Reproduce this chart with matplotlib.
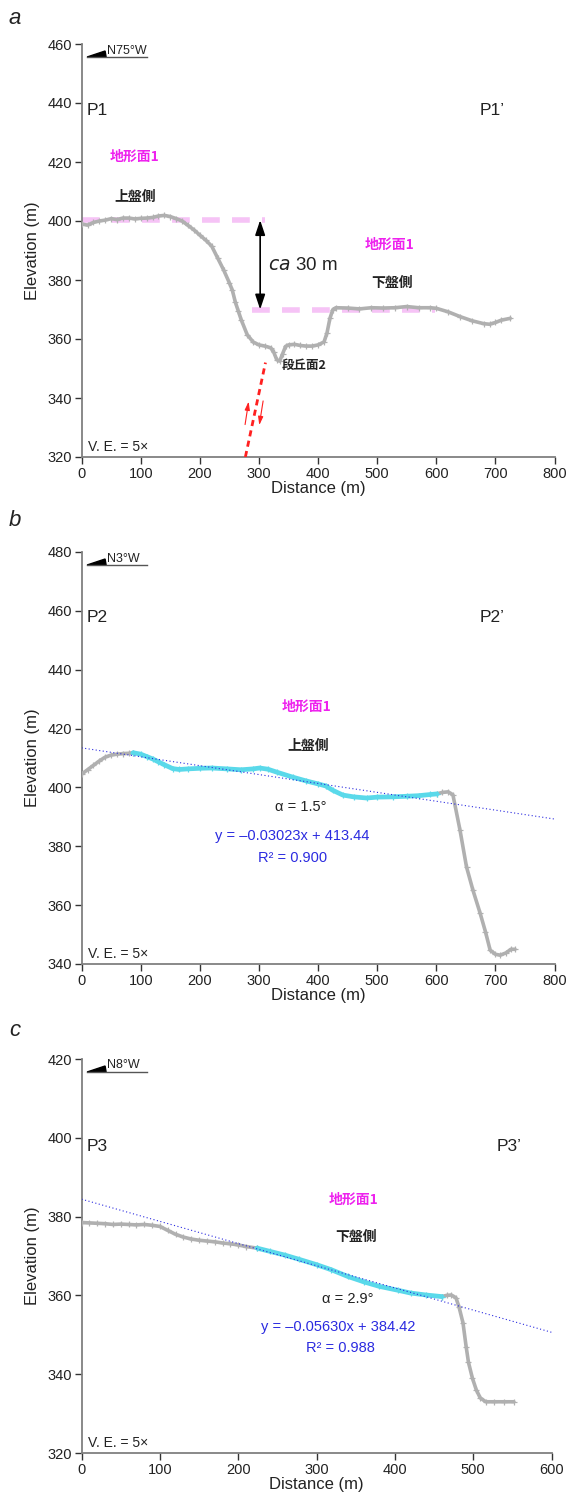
"""Three topographic profiles (P1-P3) across the fault scarp, V.E. = 5x."""
import matplotlib
matplotlib.use("Agg")
import matplotlib.pyplot as plt
import matplotlib.transforms as mtransforms
from matplotlib.patches import Polygon

plt.rcParams["font.family"] = ["Liberation Sans", "Noto Sans CJK JP", "DejaVu Sans"]

# --- profile P1 (panel a)
p1_x = [0, 10, 20, 30, 40, 50, 60, 70, 80, 90, 100, 110, 120, 130, 140, 150, 160,
        170, 180, 190, 200, 210, 220, 230, 240, 250, 255, 260, 265, 270, 280, 290,
        300, 310, 320, 325, 330, 335, 340, 345, 350, 360, 370, 380, 390, 400, 410,
        415, 420, 425, 430, 450, 470, 490, 510, 530, 550, 570, 590, 600, 620, 640,
        660, 680, 690, 700, 710, 725]
p1_y = [399, 398.6, 399.5, 400, 400.3, 400.8, 400.5, 401, 401, 400.7, 400.9, 401,
        401.2, 401.7, 401.9, 401.5, 400.8, 400, 398.5, 397, 395.2, 393.5, 391.5,
        387.5, 383.5, 379, 376.5, 372.5, 369.5, 366.5, 361.5, 359, 358, 357.6,
        357, 355.5, 353, 352.5, 355, 357.5, 358, 358.2, 357.8, 357.6, 357.6, 358,
        359, 362, 367, 370, 370.6, 370.5, 370.2, 370.6, 370.5, 370.6, 371, 370.6,
        370.6, 370.4, 369.2, 367.6, 366.2, 365.2, 365, 365.6, 366.4, 367]
p1_upper = 400.3       # 地形面1 on the hanging wall
p1_lower = 370.0       # 地形面1 on the footwall
p1_upper_span = [0, 310]
p1_lower_span = [289, 598]
fault_x = [277, 311]
fault_y = [320, 352]

# --- profile P2 (panel b)
p2_x_a = [0, 10, 20, 30, 40, 50, 60, 70, 80, 87]
p2_y_a = [404.5, 406, 407.5, 409, 410.3, 411, 411.3, 411.5, 411.6, 411.8]
p2_x_fit = [87, 100, 110, 120, 130, 140, 154, 165, 180, 200, 220, 246, 270, 290,
            301, 315, 330, 357, 380, 400, 413, 425, 442, 460, 482, 500, 526, 550,
            570, 590, 601]
p2_y_fit = [411.8, 411.3, 410.5, 409.7, 408.7, 407.7, 406.4, 406.1, 406.3, 406.5,
            406.6, 406.3, 406, 406.3, 406.6, 406.2, 405.2, 403.5, 402.2, 401.2,
            400.5, 399, 397.4, 396.8, 396.4, 396.7, 396.8, 397, 397.2, 397.6, 397.8]
p2_x_b = [601, 610, 620, 628, 640, 651, 662, 674, 683, 691, 700, 708, 718, 726, 733]
p2_y_b = [397.8, 398.3, 398.5, 397.5, 385.5, 373, 365, 357.3, 351, 344.7, 343.3,
          343, 343.8, 345, 345]
p2_slope, p2_icpt = -0.03023, 413.44

# --- profile P3 (panel c)
p3_x_a = [0, 10, 20, 30, 40, 50, 60, 70, 80, 90, 100, 110, 120, 130, 140, 150, 160,
          170, 180, 190, 200, 210, 224]
p3_y_a = [378.5, 378.4, 378.3, 378.2, 378, 378.1, 378, 377.9, 378, 377.8, 377.5,
          376.5, 375.5, 374.8, 374.3, 374, 373.8, 373.6, 373.3, 373.1, 372.8, 372.4, 372]
p3_x_fit = [224, 240, 260, 277, 300, 319, 340, 361, 380, 404, 420, 440, 460]
p3_y_fit = [372, 371.2, 370.2, 369.2, 367.8, 366.5, 364.8, 363.4, 362.3, 361.3,
            360.6, 360.1, 359.7]
p3_x_b = [460, 466, 472, 478, 482, 487, 491, 494, 499, 504, 509, 516, 527, 539, 552]
p3_y_b = [359.7, 360, 360.1, 359.4, 357, 353, 347, 343, 339, 336, 334, 333, 333,
          333, 333]
p3_slope, p3_icpt = -0.05630, 384.42

GRAY = "#b0b0b0"
CYAN = "#5ad9ea"
MAGENTA = "#ee22ee"
BLUE = "#2b2be0"
PINK = "#f6c3f6"
TXT = "#222222"
CJK = ["Noto Sans CJK JP", "DejaVu Sans"]

W, H = 568, 1503
fig = plt.figure(figsize=(W / 100, H / 100), dpi=100)
# reference-pixel coordinates (origin top-left) -> figure
PX = mtransforms.Affine2D().scale(1 / W, -1 / H).translate(0, 1) + fig.transFigure


def new_axes(left, top, right, bottom):
    ax = fig.add_axes([left / W, 1 - bottom / H, (right - left) / W, (bottom - top) / H])
    for s in ("top", "right"):
        ax.spines[s].set_visible(False)
    for s in ("left", "bottom"):
        ax.spines[s].set_color("#808080")
        ax.spines[s].set_linewidth(1.3)
    ax.tick_params(direction="out", length=5, width=1, color="#333333",
                   labelsize=10.5, labelcolor=TXT, pad=2)
    ax.set_xlabel("Distance (m)", fontsize=12, color=TXT, labelpad=0)
    ax.set_ylabel("Elevation (m)", fontsize=12, color=TXT, labelpad=5)
    return ax


def north(left, top, label):
    fig.add_artist(plt.Line2D([left + 5.5, left + 65.5], [top + 13, top + 13],
                              transform=PX, color="#555555", lw=1))
    fig.add_artist(Polygon([[left + 5.5, top + 13], [left + 23.5, top + 7],
                            [left + 24.5, top + 13]], closed=True,
                           transform=PX, color="black"))
    fig.text(left + 25.5, top + 6.5, label, transform=PX, fontsize=9,
             ha="left", va="center", color=TXT, fontstretch="condensed")


def profile(ax, x, y, color, lw=2.6):
    ax.plot(x, y, color=color, lw=lw, marker="+", ms=4.5, mew=0.9, zorder=3,
            solid_capstyle="round")


def cjk(ax, x, y, s, color, size=10):
    ax.text(x, y, s, family=CJK, fontsize=size, weight="bold", color=color,
            ha="center", va="center")


# ---------------- panel a
axa = new_axes(81.6, 44, 554.6, 457)
axa.set_xlim(0, 800)
axa.set_ylim(320, 460)
axa.set_xticks(range(0, 801, 100))
axa.set_yticks(range(320, 461, 20))
axa.plot(p1_upper_span, [p1_upper] * 2, color=PINK, lw=4, dashes=(3.2, 2.2), zorder=2)
axa.plot(p1_lower_span, [p1_lower] * 2, color=PINK, lw=4, dashes=(3.2, 2.2), zorder=2)
profile(axa, p1_x, p1_y, GRAY)
axa.annotate("", xy=(302, p1_upper), xytext=(302, p1_lower),
             arrowprops=dict(arrowstyle="<|-|>,head_length=0.9,head_width=0.3",
                             color="black", lw=1.2, shrinkA=0, shrinkB=0))
axa.text(315, 385, r"$\it{ca}$ 30 m", fontsize=13.5, ha="left", va="center", color=TXT)
axa.plot(fault_x, fault_y, color="#ff2020", lw=2, dashes=(2.2, 1.6), zorder=4)
axa.annotate("", xy=(282.5, 338.8), xytext=(276.5, 331),
             arrowprops=dict(arrowstyle="-|>,head_length=0.5,head_width=0.15",
                             color="#ff2020", lw=0.8, shrinkA=0, shrinkB=0))
axa.annotate("", xy=(300.5, 330.8), xytext=(307, 339),
             arrowprops=dict(arrowstyle="-|>,head_length=0.5,head_width=0.15",
                             color="#ff2020", lw=0.8, shrinkA=0, shrinkB=0))
cjk(axa, 90, 421.7, "地形面1", MAGENTA)
cjk(axa, 90, 408, "上盤側", TXT)
cjk(axa, 521, 392, "地形面1", MAGENTA)
cjk(axa, 525, 379, "下盤側", TXT)
cjk(axa, 376, 351.2, "段丘面2", TXT, size=9)
axa.text(9, 437.6, "P1", fontsize=12.5, color=TXT, ha="left", va="center")
axa.text(674, 437.6, "P1\u2019", fontsize=12.5, color=TXT, ha="left", va="center")
axa.text(11, 323.5, "V. E. = 5\u00d7", fontsize=10, color=TXT, ha="left", va="center")
north(81.6, 44, "N75°W")
fig.text(15, 18, "a", transform=PX, fontsize=16, style="italic", ha="center",
         va="center", color=TXT)

# ---------------- panel b
axb = new_axes(81.6, 552, 554.6, 964)
axb.set_xlim(0, 800)
axb.set_ylim(340, 480)
axb.set_xticks(range(0, 801, 100))
axb.set_yticks(range(340, 481, 20))
axb.plot([0, 800], [p2_icpt, p2_icpt + 800 * p2_slope], color=BLUE, lw=0.8,
         dashes=(1, 2.2), zorder=5)
profile(axb, p2_x_a, p2_y_a, GRAY)
profile(axb, p2_x_b, p2_y_b, GRAY)
profile(axb, p2_x_fit, p2_y_fit, CYAN, lw=3.4)
cjk(axb, 381, 427.3, "地形面1", MAGENTA)
cjk(axb, 383, 414, "上盤側", TXT)
axb.text(371, 393.4, "\u03b1 = 1.5°", fontsize=10.5, color=TXT, ha="center", va="center")
axb.text(357, 383.5, "y = \u20130.03023x + 413.44", fontsize=10.5, color=BLUE,
         ha="center", va="center")
axb.text(357, 376, "R\u00b2 = 0.900", fontsize=10.5, color=BLUE, ha="center", va="center")
axb.text(9, 457.6, "P2", fontsize=12.5, color=TXT, ha="left", va="center")
axb.text(674, 457.6, "P2\u2019", fontsize=12.5, color=TXT, ha="left", va="center")
axb.text(11, 343.5, "V. E. = 5\u00d7", fontsize=10, color=TXT, ha="left", va="center")
north(81.6, 552, "N3°W")
fig.text(15, 520, "b", transform=PX, fontsize=16, style="italic", ha="center",
         va="center", color=TXT)

# ---------------- panel c
axc = new_axes(81.6, 1059, 551.5, 1453)
axc.set_xlim(0, 600)
axc.set_ylim(320, 420)
axc.set_xticks(range(0, 601, 100))
axc.set_yticks(range(320, 421, 20))
axc.plot([0, 600], [p3_icpt, p3_icpt + 600 * p3_slope], color=BLUE, lw=0.8,
         dashes=(1, 2.2), zorder=5)
profile(axc, p3_x_a, p3_y_a, GRAY)
profile(axc, p3_x_b, p3_y_b, GRAY)
profile(axc, p3_x_fit, p3_y_fit, CYAN, lw=3.4)
cjk(axc, 347, 384.3, "地形面1", MAGENTA)
cjk(axc, 350, 374.7, "下盤側", TXT)
axc.text(340, 359, "\u03b1 = 2.9°", fontsize=10.5, color=TXT, ha="center", va="center")
axc.text(328, 351.9, "y = \u20130.05630x + 384.42", fontsize=10.5, color=BLUE,
         ha="center", va="center")
axc.text(331, 346.6, "R\u00b2 = 0.988", fontsize=10.5, color=BLUE, ha="center", va="center")
axc.text(7, 397.7, "P3", fontsize=12.5, color=TXT, ha="left", va="center")
axc.text(530, 397.7, "P3\u2019", fontsize=12.5, color=TXT, ha="left", va="center")
axc.text(8, 322.6, "V. E. = 5\u00d7", fontsize=10, color=TXT, ha="left", va="center")
north(81.6, 1059, "N8°W")
fig.text(15, 1030, "c", transform=PX, fontsize=16, style="italic", ha="center",
         va="center", color=TXT)

fig.savefig("out.png", dpi=100, facecolor="white")
